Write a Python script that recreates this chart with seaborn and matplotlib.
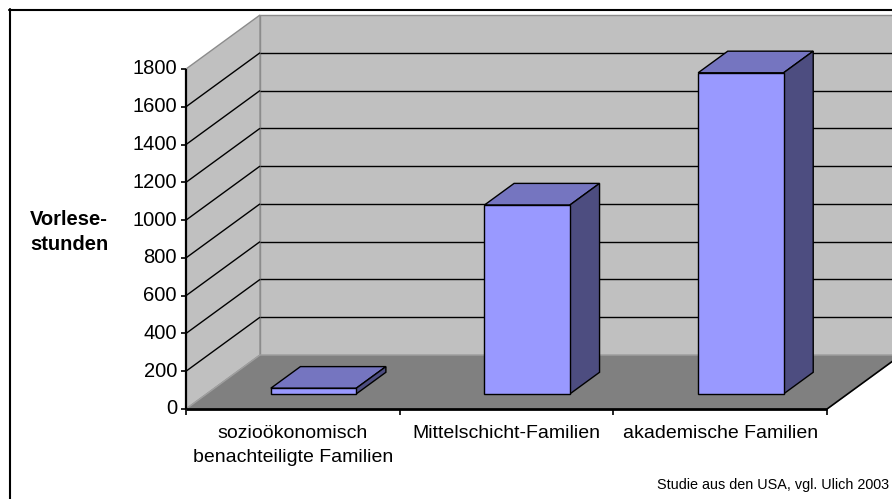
import numpy as np
import matplotlib
matplotlib.use("Agg")
import matplotlib.pyplot as plt
from matplotlib.patches import Polygon
from matplotlib.lines import Line2D
from matplotlib.transforms import ScaledTranslation
import seaborn as sns

# --- data -------------------------------------------------------------
categories = ["sozioökonomisch\nbenachteiligte Familien",
              "Mittelschicht-Familien",
              "akademische Familien"]
hours = [30, 1000, 1700]
value_ticks = [0, 200, 400, 600, 800, 1000, 1200, 1400, 1600, 1800]
axis_title = "Vorlese-\nstunden"
source_note = "Studie aus den USA, vgl. Ulich 2003"

# --- figure -----------------------------------------------------------
W, H, DPI = 892, 499, 100
sns.set_theme(style="white")
plt.rcParams["font.family"] = ["Liberation Sans", "DejaVu Sans"]

fig = plt.figure(figsize=(W / DPI, H / DPI), dpi=DPI, facecolor="white")

# front plane of the oblique 3D box (pixel coordinates from the top-left)
X0, X1, Y0, Y1 = 186, 827, 409, 69
ax = fig.add_axes([X0 / W, 1 - Y0 / H, (X1 - X0) / W, (Y0 - Y1) / H])

WALL = "#C0C0C0"
FLOOR = "#808080"
FRONT = "#9999FF"
TOP = "#7575C0"
SIDE = "#4D4D80"

sns.barplot(x=categories, y=hours, ax=ax, width=0.4, color=FRONT,
            saturation=1, edgecolor="black", linewidth=1.0)
ax.set_xlim(-0.5, len(categories) - 0.5)
ax.set_ylim(value_ticks[0], value_ticks[-1])
ax.set_autoscale_on(False)
ax.set_axis_off()

DEPTH = np.array([74.0, 54.0])      # shift of the back plane, pixels
BAR_FRONT, BAR_BACK = 0.28, 0.68    # bar depth range within the box


def shift(d):
    return ScaledTranslation(DEPTH[0] * d / DPI, DEPTH[1] * d / DPI,
                             fig.dpi_scale_trans)


def P(x, v, d):
    disp = ax.transData.transform((x, v)) + DEPTH * d
    return fig.transFigure.inverted().transform(disp)


def poly(pts, fc, ec, lw=1.0, z=1):
    ax.add_patch(Polygon(pts, closed=True, facecolor=fc, edgecolor=ec,
                         linewidth=lw, transform=fig.transFigure,
                         clip_on=False, zorder=z, joinstyle="miter"))


def line(a, b, color="black", lw=1.0, z=2):
    ax.add_line(Line2D([a[0], b[0]], [a[1], b[1]], color=color, lw=lw,
                       transform=fig.transFigure, clip_on=False, zorder=z,
                       solid_capstyle="butt"))


xa, xb = ax.get_xlim()
vmax = value_ticks[-1]

# walls and floor
poly([P(xa, 0, 1), P(xb, 0, 1), P(xb, vmax, 1), P(xa, vmax, 1)], WALL, "#8C8C8C", z=0.5)
poly([P(xa, 0, 0), P(xa, vmax, 0), P(xa, vmax, 1), P(xa, 0, 1)], WALL, "#8C8C8C", z=0.6)
poly([P(xa, 0, 0), P(xb, 0, 0), P(xb, 0, 1), P(xa, 0, 1)], FLOOR, "#A0A0A0", z=0.7)
line(P(xb, 0, 0), P(xb, 0, 1), lw=1.2, z=0.8)

# gridlines on side and back walls
for t in value_ticks[1:-1]:
    line(P(xa, t, 0), P(xa, t, 1), lw=1.0, z=0.9)
    line(P(xa, t, 1), P(xb, t, 1), lw=1.0, z=0.9)

# bars: seaborn front faces moved into depth, plus top and side faces
for p in list(ax.patches)[:len(categories)]:
    x0, w, v = p.get_x(), p.get_width(), p.get_height()
    x1 = x0 + w
    poly([P(x0, v, BAR_FRONT), P(x1, v, BAR_FRONT), P(x1, v, BAR_BACK), P(x0, v, BAR_BACK)],
         TOP, "black", z=5)
    poly([P(x1, 0, BAR_FRONT), P(x1, v, BAR_FRONT), P(x1, v, BAR_BACK), P(x1, 0, BAR_BACK)],
         SIDE, "black", z=5)
    p.set_transform(ax.transData + shift(BAR_FRONT))
    p.set_clip_on(False)
    p.set_zorder(6)

# value axis with ticks and labels
line(P(xa, 0, 0), P(xa, vmax, 0), lw=1.6, z=3)
px = 1.0 / W
py = 1.0 / H
for t in value_ticks:
    fx, fy = P(xa, t, 0)
    line((fx - 5 * px, fy), (fx, fy), lw=1.2, z=3)
    fig.text(fx - 9 * px, fy, str(t), ha="right", va="center", fontsize=14.5,
             color="black")

# category axis with ticks and labels
line(P(xa, 0, 0), P(xb, 0, 0), lw=2.0, z=3)
for k in range(len(categories) + 1):
    fx, fy = P(xa + k, 0, 0)
    line((fx, fy), (fx, fy - 6 * py), lw=1.2, z=3)
for k, c in enumerate(categories):
    fx, fy = P(k, 0, 0)
    fig.text(fx, fy - 16 * py, c, ha="center", va="top", fontsize=14,
             linespacing=1.5, color="black")

fig.text(69 * px, 1 - 232 * py, axis_title, ha="center", va="center",
         fontsize=14.5, fontweight="bold", linespacing=1.45, color="black")
fig.text(889 * px, 1 - 489 * py, source_note, ha="right", va="baseline",
         fontsize=10.4, color="black")

# chart frame
fig.add_artist(Line2D([9 * px, 1.0], [1 - 9.5 * py, 1 - 9.5 * py], color="black", lw=1.5))
fig.add_artist(Line2D([9.5 * px, 9.5 * px], [0.0, 1 - 9 * py], color="black", lw=1.5))

fig.savefig("out.png", dpi=DPI, facecolor="white")
